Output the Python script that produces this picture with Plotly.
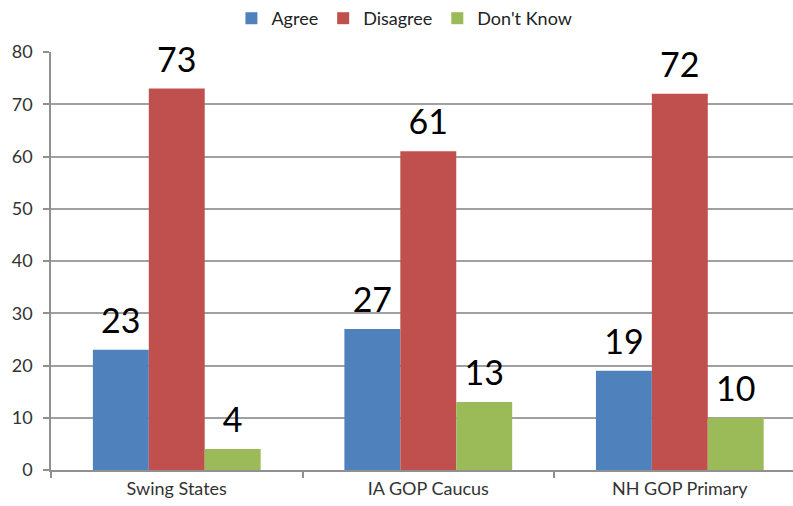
import plotly.graph_objects as go

categories = ["Swing States", "IA GOP Caucus", "NH GOP Primary"]
agree = [23, 27, 19]
disagree = [73, 61, 72]
dont_know = [4, 13, 10]
series_names = ["Agree", "Disagree", "Don't Know"]
colors = ["#4F81BD", "#C0504D", "#9BBB59"]
y_ticks = [0, 10, 20, 30, 40, 50, 60, 70, 80]

GAP = 0.333
fig = go.Figure()
for name, vals, col in zip(series_names, [agree, disagree, dont_know], colors):
    fig.add_trace(go.Bar(
        name=name, x=categories, y=vals, marker=dict(color=col, line=dict(width=0)),
        offsetgroup=name, hoverinfo="skip",
    ))
for name, vals in zip(series_names, [agree, disagree, dont_know]):
    fig.add_trace(go.Scatter(
        x=categories, y=vals, mode="text+markers", offsetgroup=name,
        marker=dict(size=12, opacity=0), showlegend=False, hoverinfo="skip",
        text=[str(v) for v in vals], textposition="top center",
        textfont=dict(family="Lato", size=34, color="#000000"),
        cliponaxis=False,
    ))

fig.update_layout(
    width=793, height=506,
    margin=dict(l=51, r=0, t=52, b=36),
    paper_bgcolor="white", plot_bgcolor="white",
    barmode="group", bargap=GAP, bargroupgap=0,
    scattermode="group", scattergap=GAP,
    font=dict(family="Lato", size=17, color="#333333"),
    showlegend=True,
    legend=dict(orientation="h", xref="container", x=0.51, xanchor="center",
                yref="container", y=1.0, yanchor="top",
                font=dict(family="Lato", size=18, color="#222222"),
                itemwidth=30, traceorder="normal"),
)
fig.update_xaxes(
    range=[-0.5, 2.45], showgrid=False, showline=True, linecolor="#909090", linewidth=1.5,
    ticks="outside", tickson="boundaries", ticklen=6, tickcolor="#909090", tickwidth=1.5,
    tickfont=dict(family="Lato", size=18, color="#333333"), ticklabelstandoff=2,
)
fig.update_yaxes(
    range=[0, 80], tickvals=y_ticks, showgrid=True, gridcolor="#a0a0a0", gridwidth=1.5,
    showline=True, linecolor="#909090", linewidth=1.5, zeroline=False,
    ticks="outside", ticklen=6, tickcolor="#909090", tickwidth=1.5,
    tickfont=dict(family="Lato", size=18, color="#333333"), ticklabelstandoff=7,
)

fig.write_html("out.html", config={"displayModeBar": False},
               post_script="document.body.style.margin='0';")
